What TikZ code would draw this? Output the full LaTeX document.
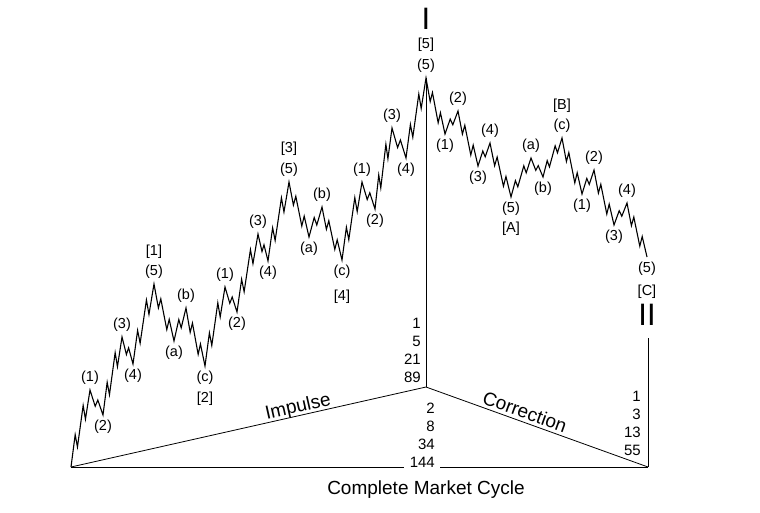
\documentclass[tikz,border=0pt]{standalone}
\usepackage{fontspec}
\setmainfont{Liberation Sans}
\usetikzlibrary{calc,positioning}

% one leg of the wave, split into five or three smaller legs
\newcommand\fiveleg[2]{let \p1=(#1), \p2=(#2) in
  -- ({\x1+.22*((\x2)-(\x1))},{\y1+.42*((\y2)-(\y1))})
  -- ({\x1+.34*((\x2)-(\x1))},{\y1+.26*((\y2)-(\y1))})
  -- ({\x1+.64*((\x2)-(\x1))},{\y1+.80*((\y2)-(\y1))})
  -- ({\x1+.76*((\x2)-(\x1))},{\y1+.62*((\y2)-(\y1))})
  -- (#2)}
\newcommand\threeleg[2]{let \p1=(#1), \p2=(#2) in
  -- ({\x1+.40*((\x2)-(\x1))},{\y1+.65*((\y2)-(\y1))})
  -- ({\x1+.60*((\x2)-(\x1))},{\y1+.40*((\y2)-(\y1))})
  -- (#2)}

\begin{document}
\begin{tikzpicture}[x=1pt,y=-1pt,
    wave/.style={line width=1.1pt},
    frame/.style={line width=0.8pt},
    lbl/.style={font=\fontsize{14.5}{15}\selectfont,inner sep=1pt},
    num/.style={font=\fontsize{15}{16}\selectfont,inner sep=0pt,anchor=base east},
    big/.style={font=\fontsize{19}{20}\selectfont,inner sep=1pt},
    roman/.style={font=\fontsize{31}{32}\selectfont,inner sep=1pt}]
    \useasboundingbox (0,0) rectangle (760,512);
    % impulse
    \coordinate (s0) at (71,467);
    \coordinate (i1) at (90,390);
    \coordinate (i2) at (103,415);
    \coordinate (i3) at (122,337);
    \coordinate (i4) at (133,364);
    \coordinate (w1) at (154,284);
    \coordinate (a2) at (174,341);
    \coordinate (b2) at (186,308);
    \coordinate (w2) at (205,366);
    \coordinate (j1) at (225,287);
    \coordinate (j2) at (237,312);
    \coordinate (j3) at (258,234);
    \coordinate (j4) at (268,261);
    \coordinate (w3) at (289,182);
    \coordinate (a4) at (309,237);
    \coordinate (b4) at (322,207);
    \coordinate (w4) at (342,260);
    \coordinate (k1) at (362,182);
    \coordinate (k2) at (375,209);
    \coordinate (k3) at (392,128);
    \coordinate (k4) at (406,158);
    \coordinate (w5) at (426,78);
    % correction
    \coordinate (m1) at (445,134);
    \coordinate (m2) at (458,111);
    \coordinate (m3) at (478,166);
    \coordinate (m4) at (490,143);
    \coordinate (wA) at (511,197);
    \coordinate (aB) at (531,158);
    \coordinate (bB) at (543,177);
    \coordinate (wB) at (562,138);
    \coordinate (n1) at (582,194);
    \coordinate (n2) at (594,170);
    \coordinate (n3) at (614,225);
    \coordinate (n4) at (627,203);
    \coordinate (wC) at (647,257);
    % frame
    \coordinate (apex) at (426,387);
    \coordinate (corner) at (648,467);
    \coordinate (rtop) at (648,338);

    \draw[wave] (s0) \fiveleg{s0}{i1} \threeleg{i1}{i2} \fiveleg{i2}{i3} \threeleg{i3}{i4} \fiveleg{i4}{w1}
        \fiveleg{w1}{a2} \threeleg{a2}{b2} \fiveleg{b2}{w2}
        \fiveleg{w2}{j1} \threeleg{j1}{j2} \fiveleg{j2}{j3} \threeleg{j3}{j4} \fiveleg{j4}{w3}
        \fiveleg{w3}{a4} \threeleg{a4}{b4} \fiveleg{b4}{w4}
        \fiveleg{w4}{k1} \threeleg{k1}{k2} \fiveleg{k2}{k3} \threeleg{k3}{k4} \fiveleg{k4}{w5}
        \fiveleg{w5}{m1} \threeleg{m1}{m2} \fiveleg{m2}{m3} \threeleg{m3}{m4} \fiveleg{m4}{wA}
        \fiveleg{wA}{aB} \threeleg{aB}{bB} \fiveleg{bB}{wB}
        \fiveleg{wB}{n1} \threeleg{n1}{n2} \fiveleg{n2}{n3} \threeleg{n3}{n4} \fiveleg{n4}{wC};

    % wave labels
    \node[lbl,above=4pt] (l-i1) at (i1) {(1)};
    \node[lbl,below=4pt] (l-i2) at (i2) {(2)};
    \node[lbl,above=4pt] (l-i3) at (i3) {(3)};
    \node[lbl,below=4pt] (l-i4) at (i4) {(4)};
    \node[lbl,above=4pt] (l-w1) at (w1) {(5)};
    \node[lbl,below=4pt] (l-a2) at (a2) {(a)};
    \node[lbl,above=4pt] (l-b2) at (b2) {(b)};
    \node[lbl,below=4pt] (l-w2) at (w2) {(c)};
    \node[lbl,above=4pt] (l-j1) at (j1) {(1)};
    \node[lbl,below=4pt] (l-j2) at (j2) {(2)};
    \node[lbl,above=4pt] (l-j3) at (j3) {(3)};
    \node[lbl,below=4pt] (l-j4) at (j4) {(4)};
    \node[lbl,above=4pt] (l-w3) at (w3) {(5)};
    \node[lbl,below=4pt] (l-a4) at (a4) {(a)};
    \node[lbl,above=4pt] (l-b4) at (b4) {(b)};
    \node[lbl,below=4pt] (l-w4) at (w4) {(c)};
    \node[lbl,above=4pt] (l-k1) at (k1) {(1)};
    \node[lbl,below=4pt] (l-k2) at (k2) {(2)};
    \node[lbl,above=4pt] (l-k3) at (k3) {(3)};
    \node[lbl,below=4pt] (l-k4) at (k4) {(4)};
    \node[lbl,above=4pt] (l-w5) at (w5) {(5)};
    \node[lbl,below=4pt] (l-m1) at (m1) {(1)};
    \node[lbl,above=4pt] (l-m2) at (m2) {(2)};
    \node[lbl,below=4pt] (l-m3) at (m3) {(3)};
    \node[lbl,above=4pt] (l-m4) at (m4) {(4)};
    \node[lbl,below=4pt] (l-wA) at (wA) {(5)};
    \node[lbl,above=4pt] (l-aB) at (aB) {(a)};
    \node[lbl,below=4pt] (l-bB) at (bB) {(b)};
    \node[lbl,above=4pt] (l-wB) at (wB) {(c)};
    \node[lbl,below=4pt] (l-n1) at (n1) {(1)};
    \node[lbl,above=4pt] (l-n2) at (n2) {(2)};
    \node[lbl,below=4pt] (l-n3) at (n3) {(3)};
    \node[lbl,above=4pt] (l-n4) at (n4) {(4)};
    \node[lbl,below=4pt] (l-wC) at (wC) {(5)};
    % degree labels
    \node[lbl,above=4pt of l-w1] (d1) {[1]};
    \node[lbl,below=5pt of l-w2] (d2) {[2]};
    \node[lbl,above=5pt of l-w3] (d3) {[3]};
    \node[lbl,below=9pt of l-w4] (d4) {[4]};
    \node[lbl,above=5pt of l-w5] (d5) {[5]};
    \node[lbl,below=4pt of l-wA] (dA) {[A]};
    \node[lbl,above=4pt of l-wB] (dB) {[B]};
    \node[lbl,below=7pt of l-wC] (dC) {[C]};
    \node[roman,above=6pt of d5] (cyc1) {I};
    \node[roman,below=3pt of dC] (cyc2) {II};

    % cycle frame
    \draw[line width=1pt] (w5) -- (apex);
    \draw[frame] (s0) -- node[big,sloped,pos=.645,above=-2pt] (imp) {Impulse} (apex)
        -- node[big,sloped,pos=.43,above=2pt] (cor) {Correction} (corner);
    \draw[line width=1pt] (rtop) -- (corner);

    % wave counts
    \node[num] (up1) at (421,328.5) {1};
    \node[num] (up2) at (421,346.5) {5};
    \node[num] (up3) at (421,364.5) {21};
    \node[num] (up4) at (421,382.5) {89};
    \node[num] (dn1) at (435,413) {2};
    \node[num] (dn2) at (435,431) {8};
    \node[num] (dn3) at (435,449) {34};
    \node[num] (dn4) at (435,467) {144};
    \node[num] (rt1) at (641,401.5) {1};
    \node[num] (rt2) at (641,419.5) {3};
    \node[num] (rt3) at (641,437.5) {13};
    \node[num] (rt4) at (641,455.5) {55};
    \draw[frame] (s0) -- ($(s0 -| dn4.west)+(-6pt,0)$);
    \draw[frame] ($(corner -| dn4.east)+(5pt,0)$) -- (corner);

    \node[big,anchor=base] (mkt) at (426,494) {Complete Market Cycle};
\end{tikzpicture}
\end{document}
